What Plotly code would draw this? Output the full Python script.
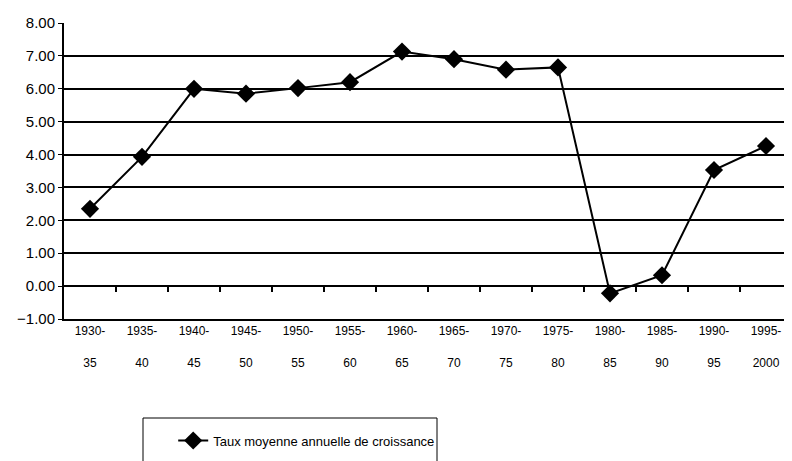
import plotly.graph_objects as go

periods = ["1930-35", "1935-40", "1940-45", "1945-50", "1950-55", "1955-60", "1960-65",
           "1965-70", "1970-75", "1975-80", "1980-85", "1985-90", "1990-95", "1995-2000"]
taux = [2.35, 3.93, 6.00, 5.85, 6.02, 6.20, 7.13, 6.90, 6.58, 6.65, -0.22, 0.33, 3.53, 4.26]
y_ticks = [-1, 0, 1, 2, 3, 4, 5, 6, 7, 8]
series_name = "Taux moyenne annuelle de croissance"

FONT = "Liberation Sans Narrow, Arial Narrow, Liberation Sans, Arial"

xs = list(range(len(periods)))
tick_text = [p.split("-")[0] + "-<br><br>" + p.split("-")[1] for p in periods]

fig = go.Figure()
fig.add_trace(go.Scatter(
    x=xs, y=taux, mode="lines+markers", name=series_name,
    line=dict(color="black", width=2),
    marker=dict(symbol="diamond", size=14, color="black"),
))
# invisible helper so the tick marks on the zero line get drawn
fig.add_trace(go.Scatter(
    x=xs, y=taux, xaxis="x2", mode="markers", showlegend=False,
    marker=dict(opacity=0), hoverinfo="skip",
))

# page body adds 8px around the figure, so the figure is 8px smaller
xrange = [-0.5, 13.5]
fig.update_layout(
    width=784, height=453,
    margin=dict(l=56, r=0, t=15, b=142, autoexpand=False),
    paper_bgcolor="white", plot_bgcolor="white",
    font=dict(family=FONT, color="black", size=13),
    showlegend=True,
    legend=dict(x=0.15, y=-0.36, xanchor="left", yanchor="top",
                bgcolor="rgba(0,0,0,0)", font=dict(size=13, family=FONT)),
    xaxis=dict(range=xrange, tickvals=xs, ticktext=tick_text, showgrid=False,
               showline=True, linecolor="black", linewidth=2, ticks="",
               zeroline=False, tickfont=dict(size=12)),
    xaxis2=dict(range=xrange, overlaying="x", anchor="free", position=1 / 9,
                side="bottom", tickvals=[i + 0.5 for i in xs], showticklabels=False,
                ticks="outside", ticklen=5, tickwidth=1.5, tickcolor="black",
                showgrid=False, zeroline=False, showline=False),
    yaxis=dict(range=[-1, 8], tickvals=y_ticks, tickformat=".2f",
               showgrid=True, gridcolor="black", gridwidth=2,
               showline=True, linecolor="black", linewidth=2,
               ticks="outside", ticklen=4, tickcolor="black",
               zeroline=False, tickfont=dict(size=15)),
)

# legend box (its lower edge falls outside the picture)
fig.add_shape(type="rect", xref="paper", yref="paper",
              x0=(143 - 64) / 728, x1=(437 - 64) / 728,
              y0=-0.7, y1=(319 - 418) / 296,
              line=dict(color="black", width=1), fillcolor="rgba(0,0,0,0)")

fig.write_html("out.html")
